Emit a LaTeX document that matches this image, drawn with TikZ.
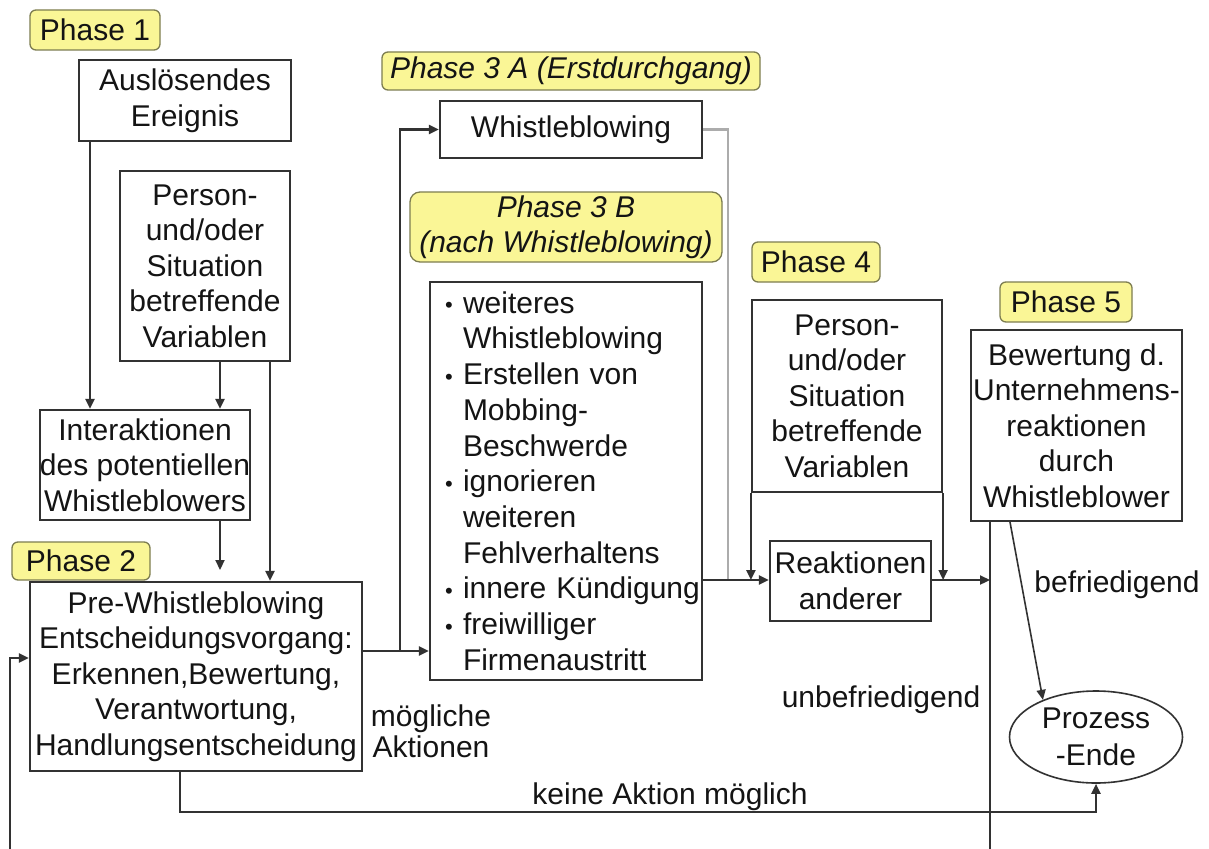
\documentclass[tikz,border=0pt]{standalone}
\usepackage{fontspec}
\setmainfont{Liberation Sans}
\usetikzlibrary{arrows.meta,shapes.geometric}
\definecolor{phfill}{RGB}{250,246,150}
\definecolor{phdraw}{RGB}{125,125,80}
\definecolor{ln}{RGB}{50,50,50}
\definecolor{txt}{RGB}{20,20,20}
\newcommand\bi{\hspace*{15pt}\makebox[18pt][l]{\raisebox{0.5pt}{\fontsize{22}{22}\selectfont\textbullet}}}
\newcommand\ci{\hspace*{33pt}}
\begin{document}
\begin{tikzpicture}[x=1pt,y=-1pt,
  box/.style={draw=ln,line width=2.2pt,fill=white,inner sep=0pt,align=center,text=txt,font=\fontsize{30}{35.5}\selectfont},
  ph/.style={draw=phdraw,fill=phfill,line width=1.3pt,rounded corners=6pt,inner sep=0pt,text=txt,align=center,font=\fontsize{30}{35}\selectfont},
  phi/.style={ph,font=\itshape\fontsize{30}{35}\selectfont},
  lbl/.style={text=txt,inner sep=0pt,align=center,font=\fontsize{30}{31}\selectfont},
  arr/.style={draw=ln,line width=2.2pt,-{Triangle[length=10pt,width=9pt]}},
  gl/.style={draw=gray!65,line width=2.2pt}
]
\clip (0,0) rectangle (1209,848);
\fill[white] (0,0) rectangle (1209,848);

% helper coordinates
\coordinate (x10) at (10,0);
\coordinate (x90) at (90,0);
\coordinate (x180) at (180,0);
\coordinate (x220) at (220,0);
\coordinate (x270) at (270,0);
\coordinate (x400) at (400,0);
\coordinate (x728) at (728,0);
\coordinate (x990) at (990,0);
\coordinate (x1010) at (1010,0);
\coordinate (y570) at (0,570);
\coordinate (y580) at (0,580);
\coordinate (y651) at (0,651);
\coordinate (y658) at (0,658);
\coordinate (y812) at (0,812);
\coordinate (ybot) at (0,880);

% Phase 1
\node[ph,minimum width=130pt,minimum height=40pt] (ph1) at (95,30) {Phase 1};
\node[box,minimum width=212pt,minimum height=81pt] (ausl) at (185,100.5) {Auslösendes\\Ereignis};
\node[box,minimum width=170pt,minimum height=190pt] (pers1) at (205,266) {Person-\\und/oder\\Situation\\betreffende\\Variablen};
\node[box,minimum width=210pt,minimum height=110pt] (inter) at (145,465) {Interaktionen\\des potentiellen\\Whistleblowers};

% Phase 2
\node[box,minimum width=332pt,minimum height=189pt] (pre) at (196,676.5) {Pre-Whistleblowing\\Entscheidungsvorgang:\\Erkennen,Bewertung,\\Verantwortung,\\Handlungsentscheidung};
\node[ph,minimum width=138pt,minimum height=38pt] (ph2) at (81,561) {Phase 2};

% Phase 3
\node[phi,minimum width=378pt,minimum height=38pt] (ph3a) at (571,71) {Phase 3 A (Erstdurchgang)};
\node[box,minimum width=262pt,minimum height=57pt] (wb) at (571,129.5) {Whistleblowing};
\node[phi,rounded corners=10pt,minimum width=312pt,minimum height=70pt] (ph3b) at (566,227) {Phase 3 B\\(nach Whistleblowing)};
\node[box,align=left,text width=272pt,minimum height=398pt,font=\fontsize{30}{35.7}\selectfont] (b3) at (566,481) {%
\bi weiteres\\
\ci Whistleblowing\\
\bi Erstellen von\\
\ci Mobbing-\\
\ci Beschwerde\\
\bi ignorieren\\
\ci weiteren\\
\ci Fehlverhaltens\\
\bi innere Kündigung\\
\bi freiwilliger\\
\ci Firmenaustritt};

% Phase 4
\node[ph,minimum width=128pt,minimum height=40pt] (ph4) at (816,262) {Phase 4};
\node[box,minimum width=190pt,minimum height=192pt] (pers4) at (847,396) {Person-\\und/oder\\Situation\\betreffende\\Variablen};
\node[box,minimum width=161pt,minimum height=80pt] (reak) at (850.5,581) {Reaktionen\\anderer};

% Phase 5
\node[ph,minimum width=132pt,minimum height=40pt] (ph5) at (1066,302) {Phase 5};
\node[box,minimum width=211pt,minimum height=191pt] (bew) at (1076.5,425.5) {Bewertung d.\\Unternehmens-\\reaktionen\\durch\\Whistleblower};
\node[box,ellipse,line width=1.6pt,minimum width=173pt,minimum height=92pt,font=\fontsize{30}{37}\selectfont] (ende) at (1096,737) {Prozess\\-Ende};

% labels
\node[lbl] (lbef) at (1117,585) {befriedigend};
\node[lbl] (lunb) at (881,700) {unbefriedigend};
\node[lbl] (lmog) at (431,731) {mögliche\\Aktionen};
\node[lbl] (lkei) at (670,797) {keine Aktion möglich};

% connectors
\draw[arr] (ausl.south -| x90) -- (inter.north -| x90);
\draw[arr] (pers1.south -| x220) -- (inter.north -| x220);
\draw[arr] (pers1.south -| x270) -- (pre.north -| x270);
\draw[arr] (inter.south -| x220) -- (x220 |- y570);
\draw[arr] (pre.east |- y651) -- (b3.west |- y651);
\draw[arr] (x400 |- y651) |- (wb.west);
\draw[gl] (wb.east) -| (x728 |- y580);
\draw[arr] (b3.east |- y580) -- (reak.west |- y580);
\draw[arr] (pers4.south west) -- (pers4.south west |- y580);
\draw[arr] (pers4.south east) -- (pers4.south east |- y580);
\draw[arr] (reak.east |- y580) -- (x990 |- y580);
\draw[arr] (bew.south -| x990) -- (x990 |- ybot) -| (x10 |- y658) -- (pre.west |- y658);
\draw[arr,line width=1.6pt] (bew.south -| x1010) -- (ende.145);
\draw[arr] (pre.south -| x180) |- (ende.south |- y812) -- (ende.south);
\end{tikzpicture}
\end{document}
